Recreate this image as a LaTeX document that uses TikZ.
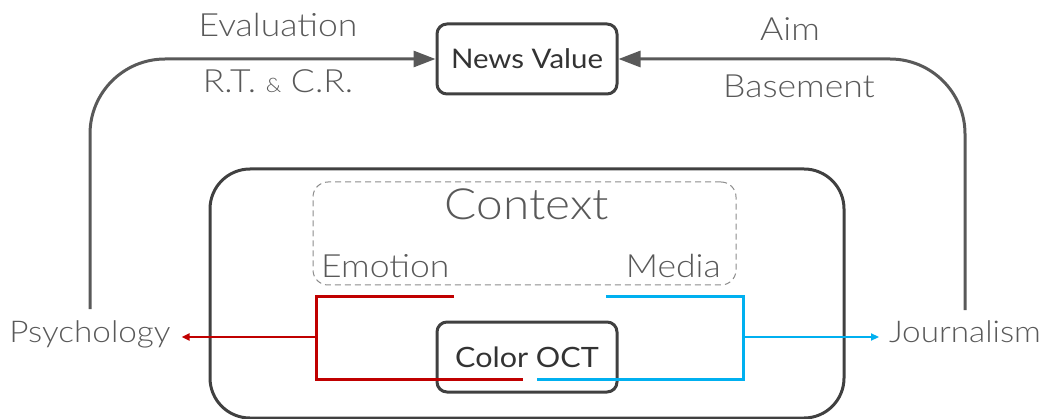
\documentclass[tikz,border=0pt]{standalone}
\usepackage{fontspec}
\newfontfamily\thinf{Lato Light}[FakeStretch=1.11]
\newfontfamily\regf{Lato}[FakeStretch=1.09]
\usetikzlibrary{arrows.meta}
\definecolor{txtc}{HTML}{595959}
\definecolor{boxc}{HTML}{404040}
\definecolor{darkc}{HTML}{333333}
\definecolor{linec}{HTML}{595959}
\definecolor{redc}{HTML}{C00000}
\definecolor{bluec}{HTML}{00B0F0}
\definecolor{dashc}{HTML}{8C8C8C}
\begin{document}
\begin{tikzpicture}[x=1pt,y=-1pt,
  box/.style={draw=boxc, line width=3pt, rounded corners=10pt, minimum width=180pt, minimum height=70pt, inner sep=0pt, text=darkc, font=\regf\fontsize{27}{30}\selectfont},
  lbl/.style={text=txtc, font=\thinf\fontsize{32}{36}\selectfont, inner sep=0pt},
  conn/.style={draw=linec, line width=3pt, rounded corners=75pt, -{Triangle[length=22pt,width=16pt]}},
  redline/.style={draw=redc, line width=3pt},
  blueline/.style={draw=bluec, line width=3pt},
  redarrow/.style={draw=redc, line width=2pt, -{Triangle[length=8pt,width=7pt]}},
  bluearrow/.style={draw=bluec, line width=2pt, -{Triangle[length=8pt,width=7pt]}}]
\useasboundingbox (0,0) rectangle (1048,419);
% containers
\node[draw=boxc, line width=3pt, rounded corners=40pt, minimum width=634pt, minimum height=249pt, inner sep=0pt] (outer) at (527,293.5) {};
\node[draw=dashc, line width=1pt, dash pattern=on 6pt off 4pt, rounded corners=15pt, minimum width=423pt, minimum height=103pt, inner sep=0pt] (ctxbox) at (524.5,233.5) {};
% boxes
\node[box] (nv) at (527,59) {News Value};
\node[box, font=\regf\fontsize{28}{30}\selectfont] (oct) at (527,357) {Color OCT};
% labels
\node[lbl, font=\thinf\fontsize{30}{34}\selectfont, anchor=base, outer sep=11pt] (psy) at (90,342) {Psychology};
\node[lbl, font=\thinf\fontsize{30}{34}\selectfont, anchor=base, outer sep=10pt] (jou) at (965,342) {Journalism};
\node[lbl, anchor=base] (eval) at (278,37) {Evaluation};
\node[lbl, anchor=base] (rtcr) at (278,93) {R.T. {\fontsize{20}{24}\selectfont\&} C.R.};
\node[lbl, anchor=base] (aim) at (790,41) {Aim};
\node[lbl, anchor=base] (base) at (799,98) {Basement};
\node[lbl, font=\thinf\fontsize{43}{48}\selectfont, anchor=base] (ctx) at (527,220) {Context};
\node[lbl, anchor=base west] (emo) at (321,278) {Emotion};
\node[lbl, anchor=base east] (med) at (721,278) {Media};
% main connectors
\draw[conn] (psy.north) |- (nv.west);
\draw[conn] (jou.north) |- (nv.east);
% red bracket
\coordinate (r1) at (454,296);
\coordinate (r2) at (523,379);
\coordinate (rj) at (316,337);
\draw[redline] (r1) -- (316,296) -- (316,379) -- (r2);
\draw[redarrow] (rj) -- (psy.east |- rj);
% blue bracket
\coordinate (b1) at (606,296);
\coordinate (b2) at (537,379);
\coordinate (bj) at (743,337);
\draw[blueline] (b1) -- (743,296) -- (743,379) -- (b2);
\draw[bluearrow] (bj) -- (jou.west |- bj);
\end{tikzpicture}
\end{document}
